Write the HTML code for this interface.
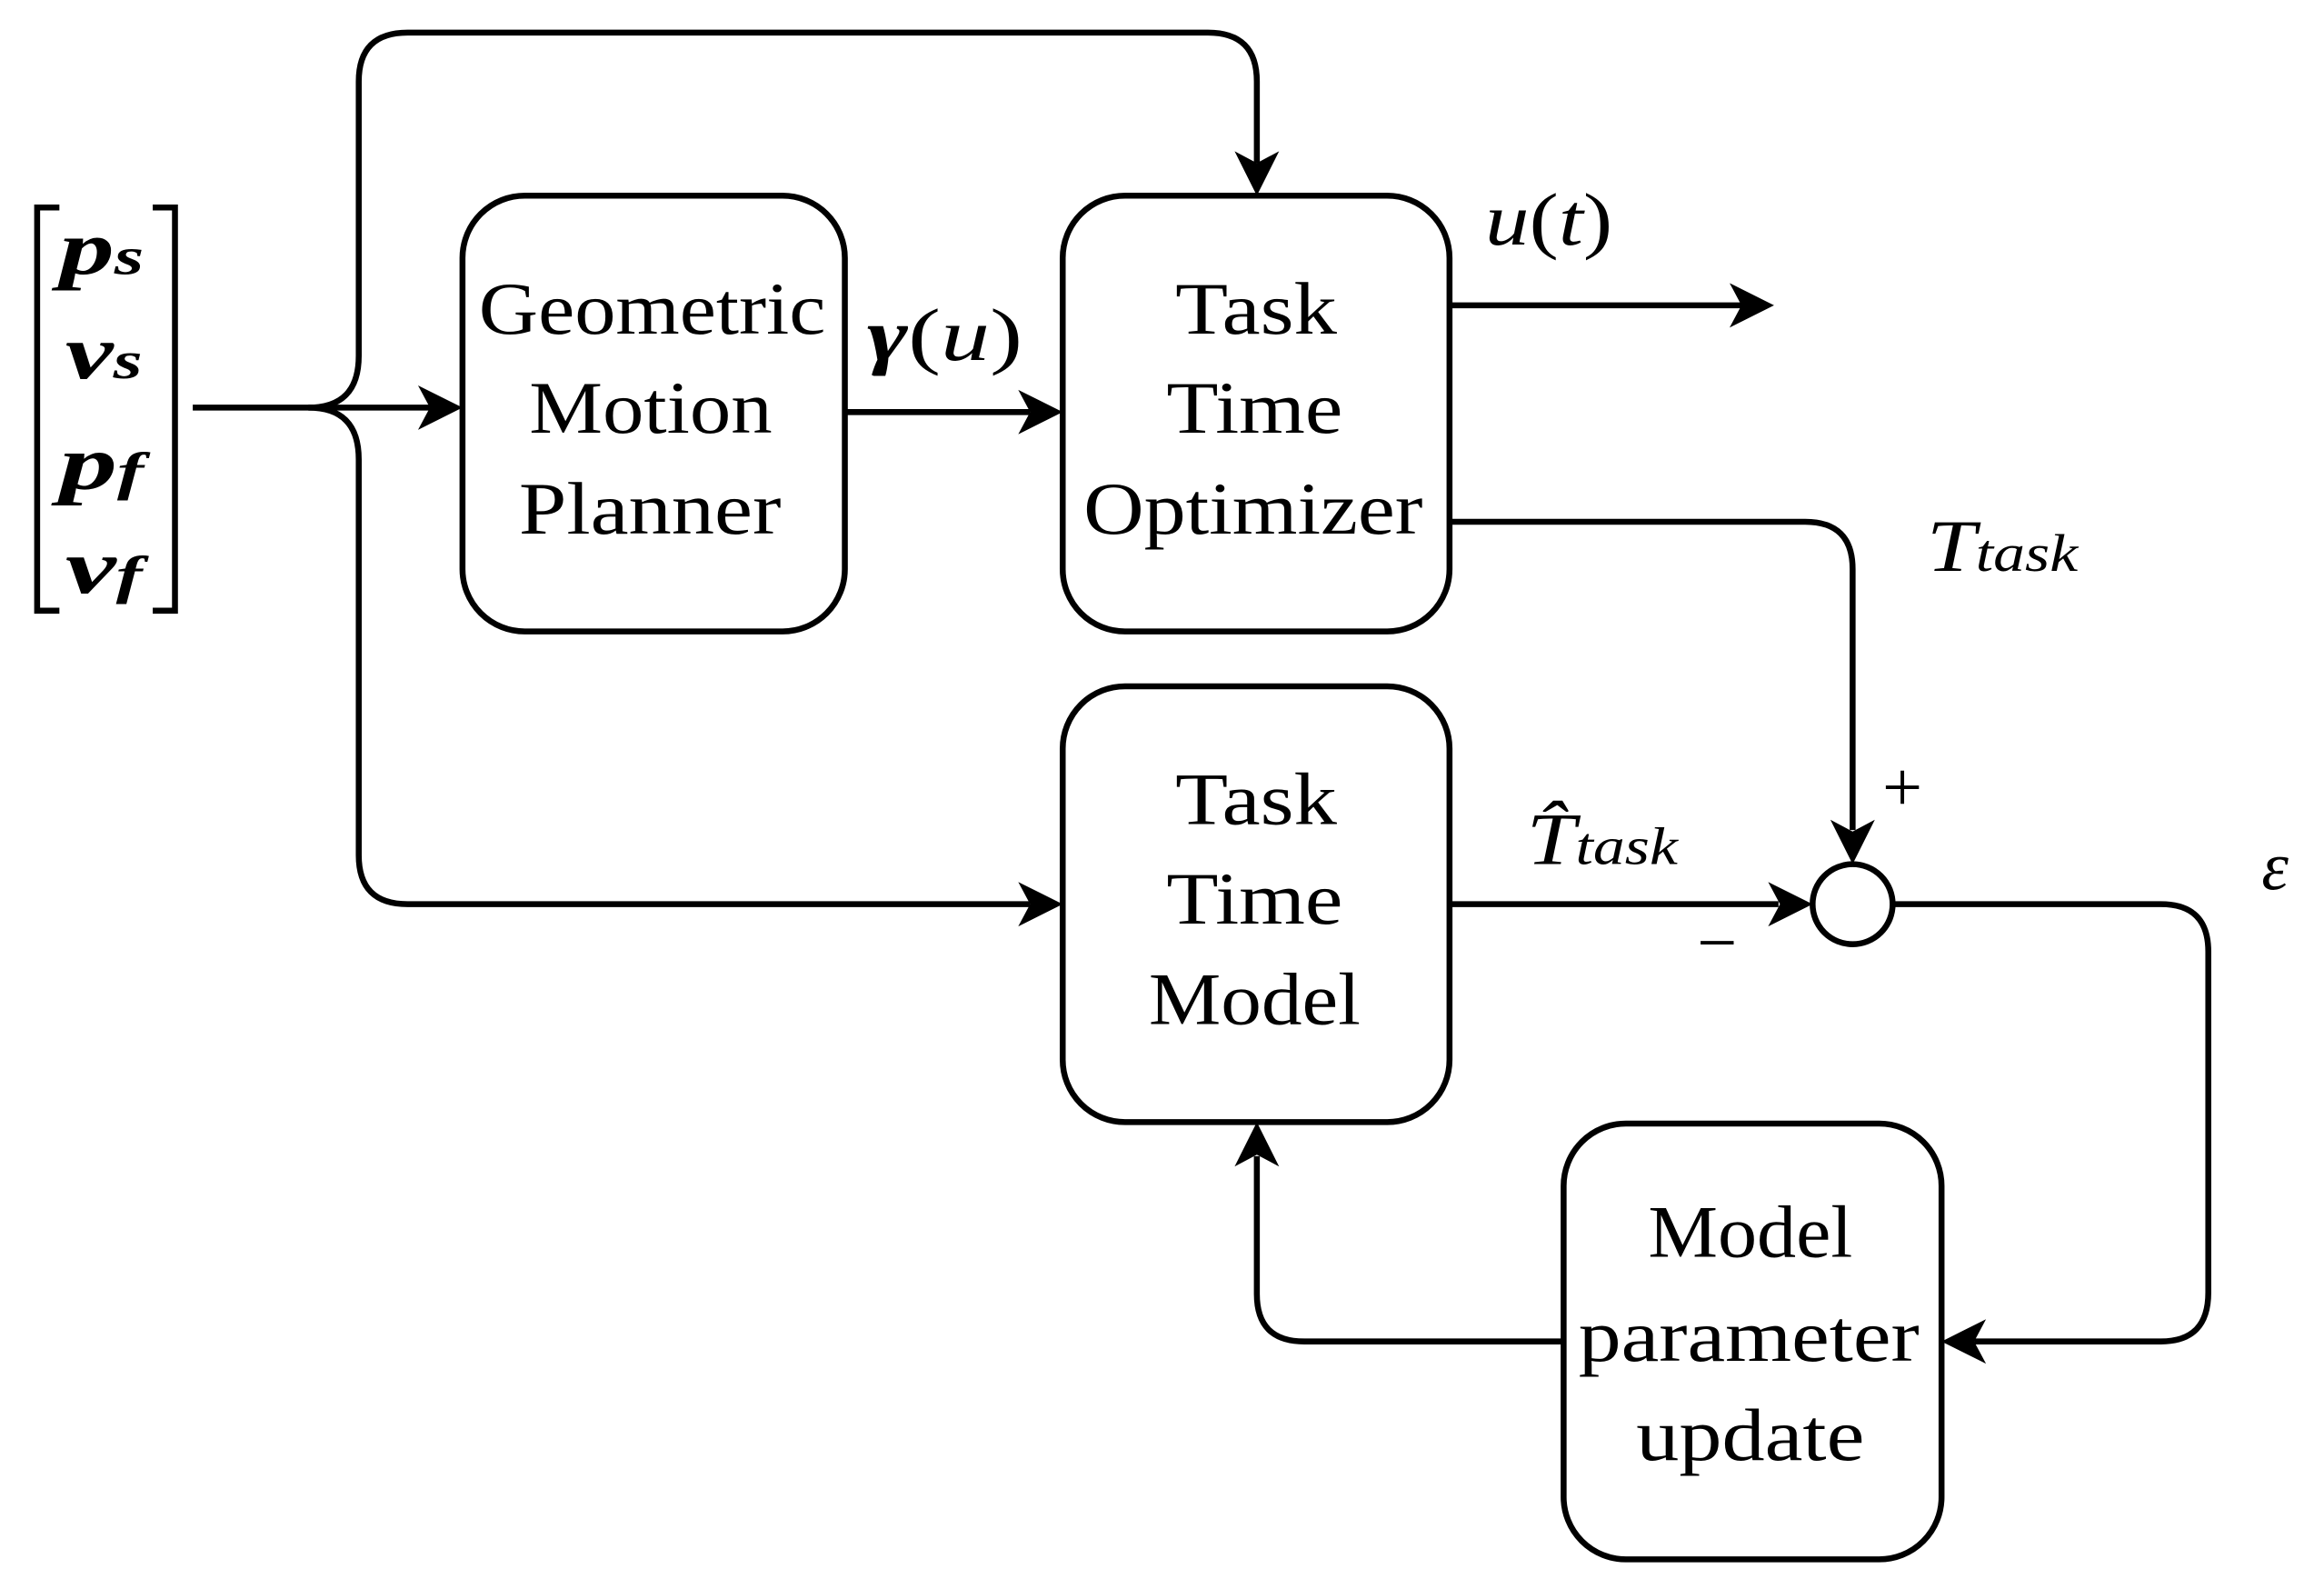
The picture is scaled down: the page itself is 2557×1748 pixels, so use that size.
<!DOCTYPE html>
<html><head><meta charset="utf-8"><style>
html,body{margin:0;padding:0;background:#fff;}
svg{display:block;}
text{font-family:"Liberation Serif",serif;fill:#000;}
</style></head><body>
<svg width="2557" height="1748" viewBox="0 0 1568 1072" xmlns="http://www.w3.org/2000/svg">
<g fill="none" stroke="#000" stroke-width="4">
<path d="M40 140 H25 V412 H40"/>
<path d="M103 140 H118 V412 H103"/>
<path d="M130 275 H290"/>
<path d="M208 275 Q242 275 242 240 V55 Q242 22 275 22 H815 Q848 22 848 55 V110"/>
<path d="M208 275 Q242 275 242 310 V577 Q242 610 275 610 H695"/>
<rect x="312" y="132" width="258" height="294" rx="42"/>
<rect x="717" y="132" width="261" height="294" rx="42"/>
<rect x="717" y="463" width="261" height="294" rx="42"/>
<rect x="1055" y="758" width="255" height="294" rx="42"/>
<path d="M570 278 H695"/>
<path d="M978 206 H1175"/>
<path d="M978 352 H1218 Q1250 352 1250 384 V560"/>
<path d="M978 610 H1200"/>
<circle cx="1250" cy="610" r="27"/>
<path d="M1277 610 H1458 Q1490 610 1490 642 V872 Q1490 905 1458 905 H1332"/>
<path d="M1055 905 H880 Q848 905 848 873 V780"/>
</g>
<g fill="#000">
<polygon points="312,275 282,260 290,275 282,290"/>
<polygon points="848,132 833,102 848,110 863,102"/>
<polygon points="717,610 687,595 695,610 687,625"/>
<polygon points="717,278 687,263 695,278 687,293"/>
<polygon points="1197,206 1167,191 1175,206 1167,221"/>
<polygon points="1250,583 1235,553 1250,561 1265,553"/>
<polygon points="1223,610 1193,595 1201,610 1193,625"/>
<polygon points="1310,905 1340,890 1332,905 1340,920"/>
<polygon points="848,757 833,787 848,779 863,787"/>
</g>
<g font-size="50">
<text x="323" y="225" textLength="234" lengthAdjust="spacingAndGlyphs">Geometric</text>
<text x="357" y="292" textLength="164" lengthAdjust="spacingAndGlyphs">Motion</text>
<text x="350" y="360" textLength="177" lengthAdjust="spacingAndGlyphs">Planner</text>
<text x="793" y="225" textLength="109" lengthAdjust="spacingAndGlyphs">Task</text>
<text x="787" y="292" textLength="119" lengthAdjust="spacingAndGlyphs">Time</text>
<text x="731" y="360" textLength="229" lengthAdjust="spacingAndGlyphs">Optimizer</text>
<text x="793" y="556" textLength="109" lengthAdjust="spacingAndGlyphs">Task</text>
<text x="787" y="623" textLength="119" lengthAdjust="spacingAndGlyphs">Time</text>
<text x="775" y="691" textLength="143" lengthAdjust="spacingAndGlyphs">Model</text>
<text x="1112" y="848" textLength="138" lengthAdjust="spacingAndGlyphs">Model</text>
<text x="1065" y="918" textLength="230" lengthAdjust="spacingAndGlyphs">parameter</text>
<text x="1104" y="985" textLength="154" lengthAdjust="spacingAndGlyphs">update</text>
</g>
<g font-style="italic" font-weight="bold" font-size="52">
<text x="40" y="185" textLength="57" lengthAdjust="spacingAndGlyphs">p<tspan font-size="36">s</tspan></text>
<text x="44" y="255" textLength="52" lengthAdjust="spacingAndGlyphs">v<tspan font-size="36">s</tspan></text>
<text x="40" y="330" textLength="57" lengthAdjust="spacingAndGlyphs">p<tspan font-size="36">f</tspan></text>
<text x="44" y="400" textLength="52" lengthAdjust="spacingAndGlyphs">v<tspan font-size="36">f</tspan></text>
</g>
<text x="585" y="243" font-size="50" textLength="105" lengthAdjust="spacingAndGlyphs"><tspan font-style="italic" font-weight="bold">γ</tspan>(<tspan font-style="italic">u</tspan>)</text>
<text x="1002" y="165" font-size="50" textLength="86" lengthAdjust="spacingAndGlyphs"><tspan font-style="italic">u</tspan>(<tspan font-style="italic">t</tspan>)</text>
<text x="1300" y="385" font-size="50" font-style="italic" textLength="102" lengthAdjust="spacingAndGlyphs">T<tspan font-size="36">task</tspan></text>
<text x="1030" y="583" font-size="50" font-style="italic" textLength="102" lengthAdjust="spacingAndGlyphs">T̂<tspan font-size="36">task</tspan></text>
<text x="1270" y="547" font-size="48">+</text>
<text x="1145" y="652" font-size="48">−</text>
<text x="1526" y="600" font-size="46" font-style="italic">ε</text>
</svg>
</body></html>
